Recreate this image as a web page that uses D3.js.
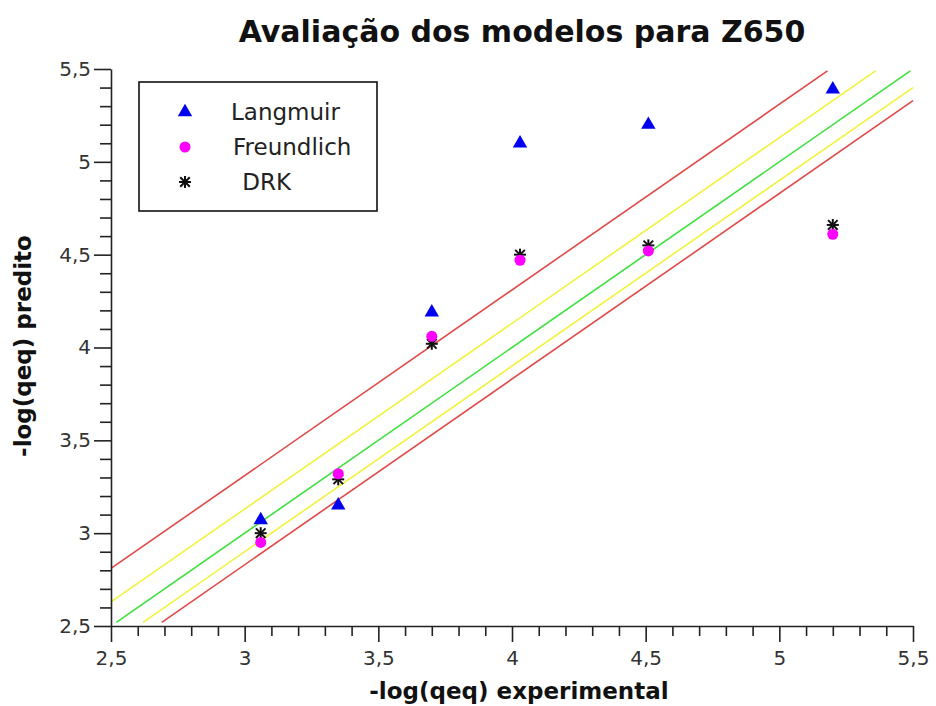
<!DOCTYPE html>
<html>
<head>
<meta charset="utf-8">
<script src="https://cdn.jsdelivr.net/npm/d3@7"></script>
<style>
  body { margin: 0; background: #fff; }
  svg text { font-family: "DejaVu Sans", sans-serif; }
  .tick-label { font-size: 20px; fill: #333; }
</style>
</head>
<body>
<div id="chart"></div>
<script>
// data
const xExp = [3.06, 3.35, 3.70, 4.03, 4.51, 5.20];
const langmuir = [3.07, 3.15, 4.19, 5.10, 5.20, 5.39];
const freundlich = [2.95, 3.32, 4.06, 4.47, 4.52, 4.61];
const drk = [3.00, 3.29, 4.02, 4.50, 4.55, 4.66];

// reference lines y = x + offset
const refOffsets = [0.31, 0.13, 0, -0.10, -0.17];
const refColors = ["#e04848", "#f2f23c", "#3ee03e", "#f2f23c", "#e04848"];

const majorTicks = [2.5, 3, 3.5, 4, 4.5, 5, 5.5];
const seriesNames = ["Langmuir", "Freundlich", " DRK"];

const width = 936, height = 706;
const margin = { top: 69, right: 23, bottom: 80, left: 111 };

const svg = d3.select("#chart").append("svg")
  .attr("width", width).attr("height", height);

const x = d3.scaleLinear().domain([2.5, 5.5]).range([margin.left, width - margin.right]);
const y = d3.scaleLinear().domain([2.5, 5.5]).range([height - margin.bottom, margin.top]);

const fmt = d => String(d).replace(".", ",");
const minorTicks = d3.range(25, 56).map(d => d / 10).filter(d => !majorTicks.some(m => Math.abs(m - d) < 1e-9));

// reference lines, clipped to the plot
const g = svg.append("g");
refOffsets.forEach((c, i) => {
  const x1 = Math.max(2.5, 2.52 - c);
  const x2 = Math.min(5.5, 5.49 - c);
  g.append("line")
    .attr("x1", x(x1)).attr("y1", y(x1 + c))
    .attr("x2", x(x2)).attr("y2", y(x2 + c))
    .attr("stroke", refColors[i])
    .attr("stroke-width", 1.6);
});

// axes
const xAxis = svg.append("g").attr("transform", `translate(0,${y(2.5)})`);
xAxis.call(d3.axisBottom(x).tickValues(minorTicks).tickSize(10).tickFormat(""));
xAxis.call(g2 => g2.selectAll(".domain").remove());
const xMajor = svg.append("g").attr("transform", `translate(0,${y(2.5)})`)
  .call(d3.axisBottom(x).tickValues(majorTicks).tickSize(16).tickSizeOuter(0).tickFormat(fmt).tickPadding(9));
xMajor.selectAll("text").attr("class", "tick-label").attr("font-size", null).attr("font-family", null);

const yAxis = svg.append("g").attr("transform", `translate(${x(2.5)},0)`);
yAxis.call(d3.axisLeft(y).tickValues(minorTicks).tickSize(11).tickFormat(""));
yAxis.call(g2 => g2.selectAll(".domain").remove());
const yMajor = svg.append("g").attr("transform", `translate(${x(2.5)},0)`)
  .call(d3.axisLeft(y).tickValues(majorTicks).tickSize(17).tickSizeOuter(0).tickFormat(fmt).tickPadding(3));
yMajor.selectAll("text").attr("class", "tick-label").attr("font-size", null).attr("font-family", null);

svg.selectAll(".domain, .tick line").attr("stroke", "#222").attr("stroke-width", 1.6);

// markers
const triangle = d3.symbol().type(d3.symbolTriangle).size(90);
const star = (sel, cx, cy) => {
  const r = 6;
  const gs = sel.append("g").attr("transform", `translate(${cx},${cy})`);
  [[-r, 0, r, 0], [0, -r, 0, r], [-r * 0.8, -r * 0.8, r * 0.8, r * 0.8], [-r * 0.8, r * 0.8, r * 0.8, -r * 0.8]]
    .forEach(l => gs.append("line").attr("x1", l[0]).attr("y1", l[1]).attr("x2", l[2]).attr("y2", l[3])
      .attr("stroke", "#111").attr("stroke-width", 2));
};

const pts = svg.append("g");
pts.selectAll(".lang").data(xExp).enter().append("path")
  .attr("d", triangle)
  .attr("transform", (d, i) => `translate(${x(d)},${y(langmuir[i])})`)
  .attr("fill", "#0000ee");
xExp.forEach((d, i) => star(pts, x(d), y(drk[i])));
pts.selectAll(".freu").data(xExp).enter().append("circle")
  .attr("cx", d => x(d)).attr("cy", (d, i) => y(freundlich[i]))
  .attr("r", 5.5).attr("fill", "#ff00ff");

// legend
const lg = svg.append("g");
lg.append("rect").attr("x", 139).attr("y", 82).attr("width", 238).attr("height", 129)
  .attr("fill", "#fff").attr("stroke", "#111").attr("stroke-width", 1.6);
const rowY = [112, 147, 182];
lg.append("path").attr("d", triangle).attr("transform", `translate(185,${rowY[0]})`).attr("fill", "#0000ee");
lg.append("circle").attr("cx", 185).attr("cy", rowY[1]).attr("r", 5.5).attr("fill", "#ff00ff");
star(lg, 185, rowY[2]);
lg.selectAll(".lt").data(seriesNames).enter().append("text")
  .attr("x", (d, i) => [231, 233, 235][i])
  .attr("y", (d, i) => rowY[i] + 8)
  .attr("font-size", 23).attr("fill", "#222")
  .style("white-space", "pre")
  .text(d => d);

// titles
svg.append("text").attr("x", 522).attr("y", 42).attr("text-anchor", "middle")
  .attr("font-size", 30).attr("font-weight", "bold").attr("fill", "#111")
  .text("Avaliação dos modelos para Z650");
svg.append("text").attr("x", 519).attr("y", 699).attr("text-anchor", "middle")
  .attr("font-size", 23).attr("font-weight", "bold").attr("fill", "#111")
  .text("-log(qeq) experimental");
svg.append("text").attr("transform", "translate(31,346) rotate(-90)").attr("text-anchor", "middle")
  .attr("font-size", 23).attr("font-weight", "bold").attr("fill", "#111")
  .text("-log(qeq) predito");
</script>
</body>
</html>
